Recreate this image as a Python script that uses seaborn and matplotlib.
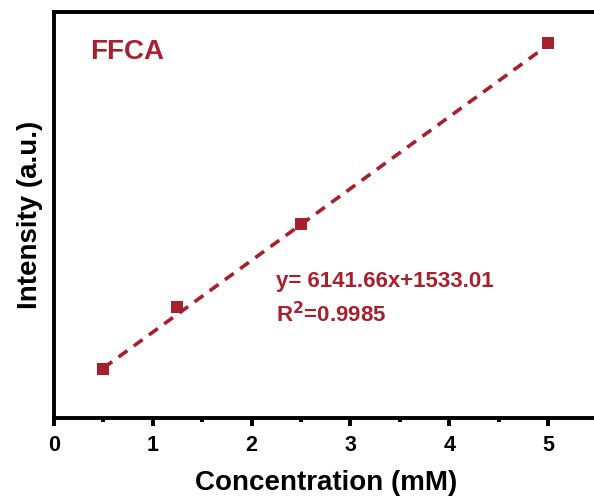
import numpy as np
import pandas as pd
import matplotlib
matplotlib.use("Agg")
import matplotlib.pyplot as plt
import seaborn as sns
from matplotlib.ticker import MultipleLocator

# data
concentration = [0.5, 1.25, 2.5, 5.0]
intensity = [4520, 9820, 16920, 32410]
fit_slope = 6141.66
fit_intercept = 1533.01
x_ticks = [0, 1, 2, 3, 4, 5]
label_name = "FFCA"
eq_text = "y= 6141.66x+1533.01"
r2_text = "R$^2$=0.9985"

red = "#A81F2E"

sns.set_style("white")
plt.rcParams['font.family'] = ['Liberation Sans', 'DejaVu Sans']
plt.rcParams['font.weight'] = 'bold'
plt.rcParams['mathtext.default'] = 'bf'
plt.rcParams['text.color'] = 'black'
plt.rcParams['axes.labelcolor'] = 'black'
plt.rcParams['xtick.color'] = 'black'

fig = plt.figure(figsize=(5.94, 5.01), dpi=100)
# axes extends slightly past right edge (reference is cropped there)
ax = fig.add_axes([54/594, (501-418)/501, 5.5*98.8/594, 406/501])

df = pd.DataFrame({"conc": concentration, "intensity": intensity})
fit_x = np.array([concentration[0], concentration[-1]])
fit_df = pd.DataFrame({"conc": fit_x, "intensity": fit_slope*fit_x + fit_intercept})

sns.lineplot(data=fit_df, x="conc", y="intensity", color=red, linewidth=2.6,
             linestyle=(0, (3, 2.2)), ax=ax)
sns.scatterplot(data=df, x="conc", y="intensity", marker="s", s=85, color=red,
                edgecolor=red, linewidth=0, ax=ax, zorder=3)

ax.set_xlim(0, 5.5)
ax.set_ylim(330, 35070)
ax.set_xticks(x_ticks)
ax.xaxis.set_minor_locator(MultipleLocator(0.5))
ax.set_yticks([])

for side in ["left", "bottom", "top"]:
    ax.spines[side].set_linewidth(2.8)
    ax.spines[side].set_color("black")
ax.spines["right"].set_visible(False)

ax.tick_params(axis="x", which="major", direction="out", length=6, width=2.8,
               labelsize=15.5, pad=6, bottom=True, colors="black")
ax.tick_params(axis="x", which="minor", direction="out", length=3, width=2.8,
               bottom=True, colors="black")
for t in ax.get_xticklabels():
    t.set_fontweight("bold")

ax.set_xlabel("Concentration (mM)", fontsize=20, fontweight="bold", labelpad=10,
              color="black")
ax.set_ylabel("Intensity (a.u.)", fontsize=20, fontweight="bold", labelpad=8,
              color="black")

ax.text(0.066, 0.901, label_name, transform=ax.transAxes, color=red,
        fontsize=20, fontweight="bold", va="center", ha="left")
ax.text(0.409, 0.335, eq_text, transform=ax.transAxes, color=red,
        fontsize=16, fontweight="bold", va="center", ha="left")
ax.text(0.409, 0.254, r2_text, transform=ax.transAxes, color=red,
        fontsize=16, fontweight="bold", va="center", ha="left")

fig.savefig("out.png", dpi=100)
